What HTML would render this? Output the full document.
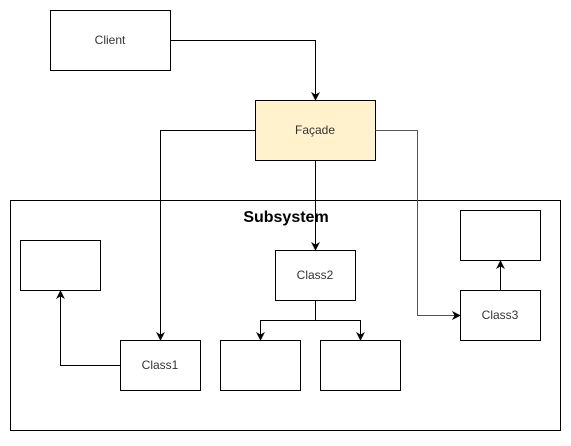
<!DOCTYPE html><html><head><style>body{margin:0;background:#fff}</style></head><body>
<svg width="571" height="441" viewBox="0 0 571 441" xmlns="http://www.w3.org/2000/svg" font-family="Liberation Sans, sans-serif">
<defs><marker id="a" viewBox="0 0 10 10" refX="9" refY="5" markerWidth="9" markerHeight="9" markerUnits="userSpaceOnUse" orient="auto"><path d="M0,0L10,5L0,10L3,5z" fill="#000"/></marker></defs>
<g fill="#fff" stroke="#000">
<rect x="10.5" y="200.5" width="550" height="230"/>
<rect x="50.5" y="10.5" width="120" height="60"/>
<rect x="255.5" y="100.5" width="120" height="60" fill="#fff2cc"/>
<rect x="20.5" y="240.5" width="80" height="50"/>
<rect x="120.5" y="340.5" width="80" height="50"/>
<rect x="275.5" y="250.5" width="80" height="50"/>
<rect x="220.5" y="340.5" width="80" height="50"/>
<rect x="320.5" y="340.5" width="80" height="50"/>
<rect x="460.5" y="290.5" width="80" height="50"/>
<rect x="460.5" y="210.5" width="80" height="50"/>
</g>
<g fill="none" stroke="#000" marker-end="url(#a)">
<path d="M170.5 40.5H315.5V100"/>
<path d="M255.5 130.5H160.5V340"/>
<path d="M315.5 160.5V250"/>
<path d="M375.5 130.5H417.5V315.5H460" stroke="#555"/>
<path d="M315.5 300.5V320.5H260.5V340"/>
<path d="M315.5 320.5H360.5V340"/>
<path d="M120.5 365.5H60.5V291"/>
<path d="M500.5 290.5V261"/>
</g>
<g font-size="12" fill="#333" text-anchor="middle">
<text x="110" y="44">Client</text>
<text x="315" y="134">Façade</text>
<text x="160" y="369">Class1</text>
<text x="315" y="279">Class2</text>
<text x="500" y="319">Class3</text>
</g>
<text x="286" y="222" font-size="16" font-weight="bold" text-anchor="middle" fill="#000">Subsystem</text>
</svg></body></html>
